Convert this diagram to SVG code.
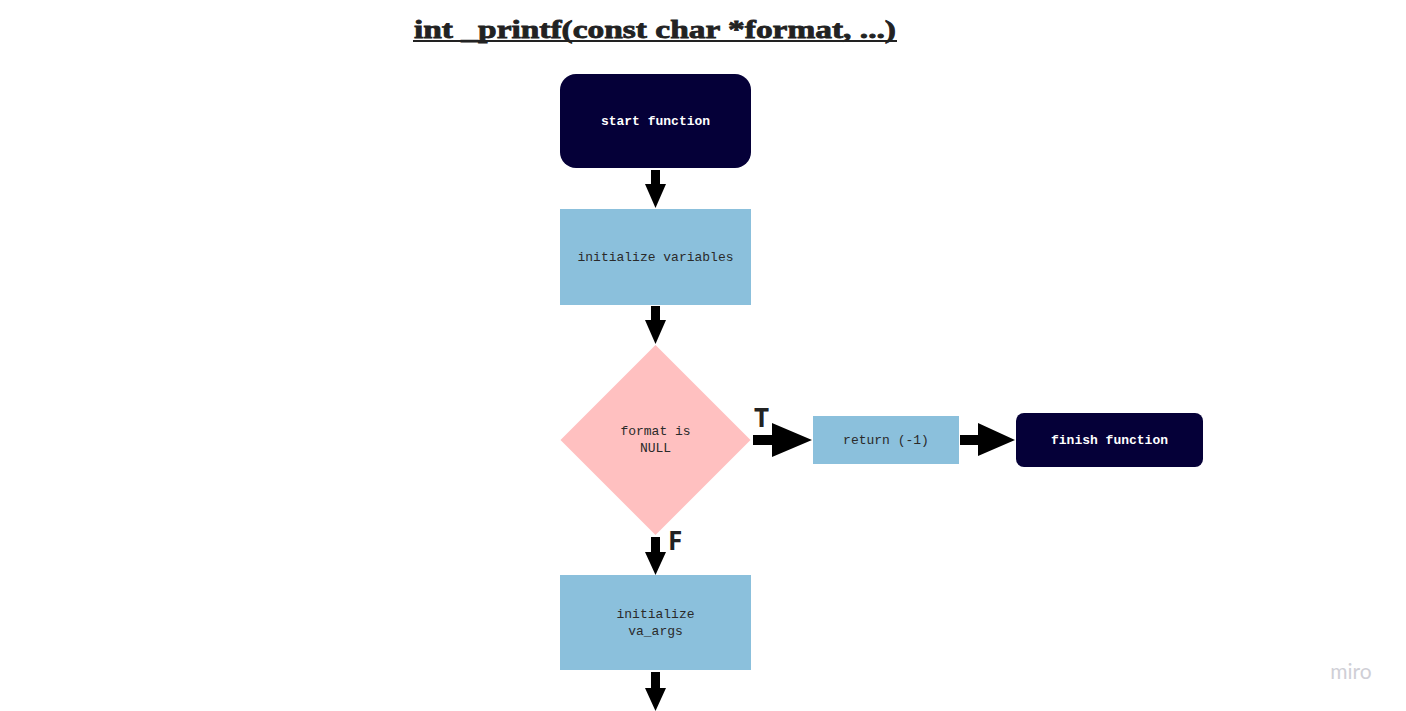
<svg xmlns="http://www.w3.org/2000/svg" width="1406" height="711" viewBox="0 0 1406 711">
<style>
.dark{fill:#050038}
.light{fill:#8bc0dc}
.wt{font-family:"Liberation Mono","DejaVu Sans Mono",monospace;font-size:13px;font-weight:bold;fill:#ffffff;text-anchor:middle}
.bt{font-family:"Liberation Mono","DejaVu Sans Mono",monospace;font-size:13px;fill:#2a2a2a;text-anchor:middle}
.lbl{font-family:"Open Sans","DejaVu Sans",sans-serif;font-size:26px;font-weight:bold;fill:#222}
.ar{fill:#000}
</style>
<rect width="1406" height="711" fill="#ffffff"/>
<g id="title">
<text x="414" y="38" font-family="Liberation Serif, serif" font-size="26" font-weight="bold" fill="#222" stroke="#222" stroke-width="0.8" textLength="482" lengthAdjust="spacingAndGlyphs">int _printf(const char *format, ...)</text>
<rect x="413" y="40" width="484" height="2" fill="#222"/>
</g>
<g id="start">
<rect class="dark" x="560" y="74" width="191" height="94" rx="16"/>
<text class="wt" x="655.5" y="125">start function</text>
</g>
<g id="initvars">
<rect class="light" x="560" y="209" width="191" height="96"/>
<text class="bt" x="655.5" y="261">initialize variables</text>
</g>
<g id="decision">
<polygon fill="#ffc0c0" points="655.5,345 750.5,440 655.5,535 560.5,440"/>
<text class="bt" x="655.5" y="435">format is</text>
<text class="bt" x="655.5" y="452">NULL</text>
</g>
<g id="return">
<rect class="light" x="813" y="416" width="146" height="48"/>
<text class="bt" x="886" y="444">return (-1)</text>
</g>
<g id="finish">
<rect class="dark" x="1016" y="413" width="187" height="54" rx="8"/>
<text class="wt" x="1109.5" y="444">finish function</text>
</g>
<g id="initargs">
<rect class="light" x="560" y="575" width="191" height="95"/>
<text class="bt" x="655.5" y="618">initialize</text>
<text class="bt" x="655.5" y="635">va_args</text>
</g>
<g id="connectors">
<polygon class="ar" points="651,170 660,170 660,184 666,184 655.5,208 645,184 651,184"/>
<polygon class="ar" points="651,306 660,306 660,320 666,320 655.5,344 645,320 651,320"/>
<polygon class="ar" points="753,435 772,435 772,423 812,440 772,457 772,445 753,445"/>
<polygon class="ar" points="960,435 978,435 978,423 1015,440 978,456 978,445 960,445"/>
<polygon class="ar" points="651,537 660,537 660,552 666,552 655.5,575 645,552 651,552"/>
<polygon class="ar" points="651,672 660,672 660,688 666,688 655.5,711 645,688 651,688"/>
<text class="lbl" x="754" y="427">T</text>
<text class="lbl" x="668" y="550">F</text>
</g>
<text x="1351" y="679" font-family="Lato, 'Open Sans', sans-serif" font-size="21" fill="#cfcfd6" text-anchor="middle">miro</text>
</svg>
